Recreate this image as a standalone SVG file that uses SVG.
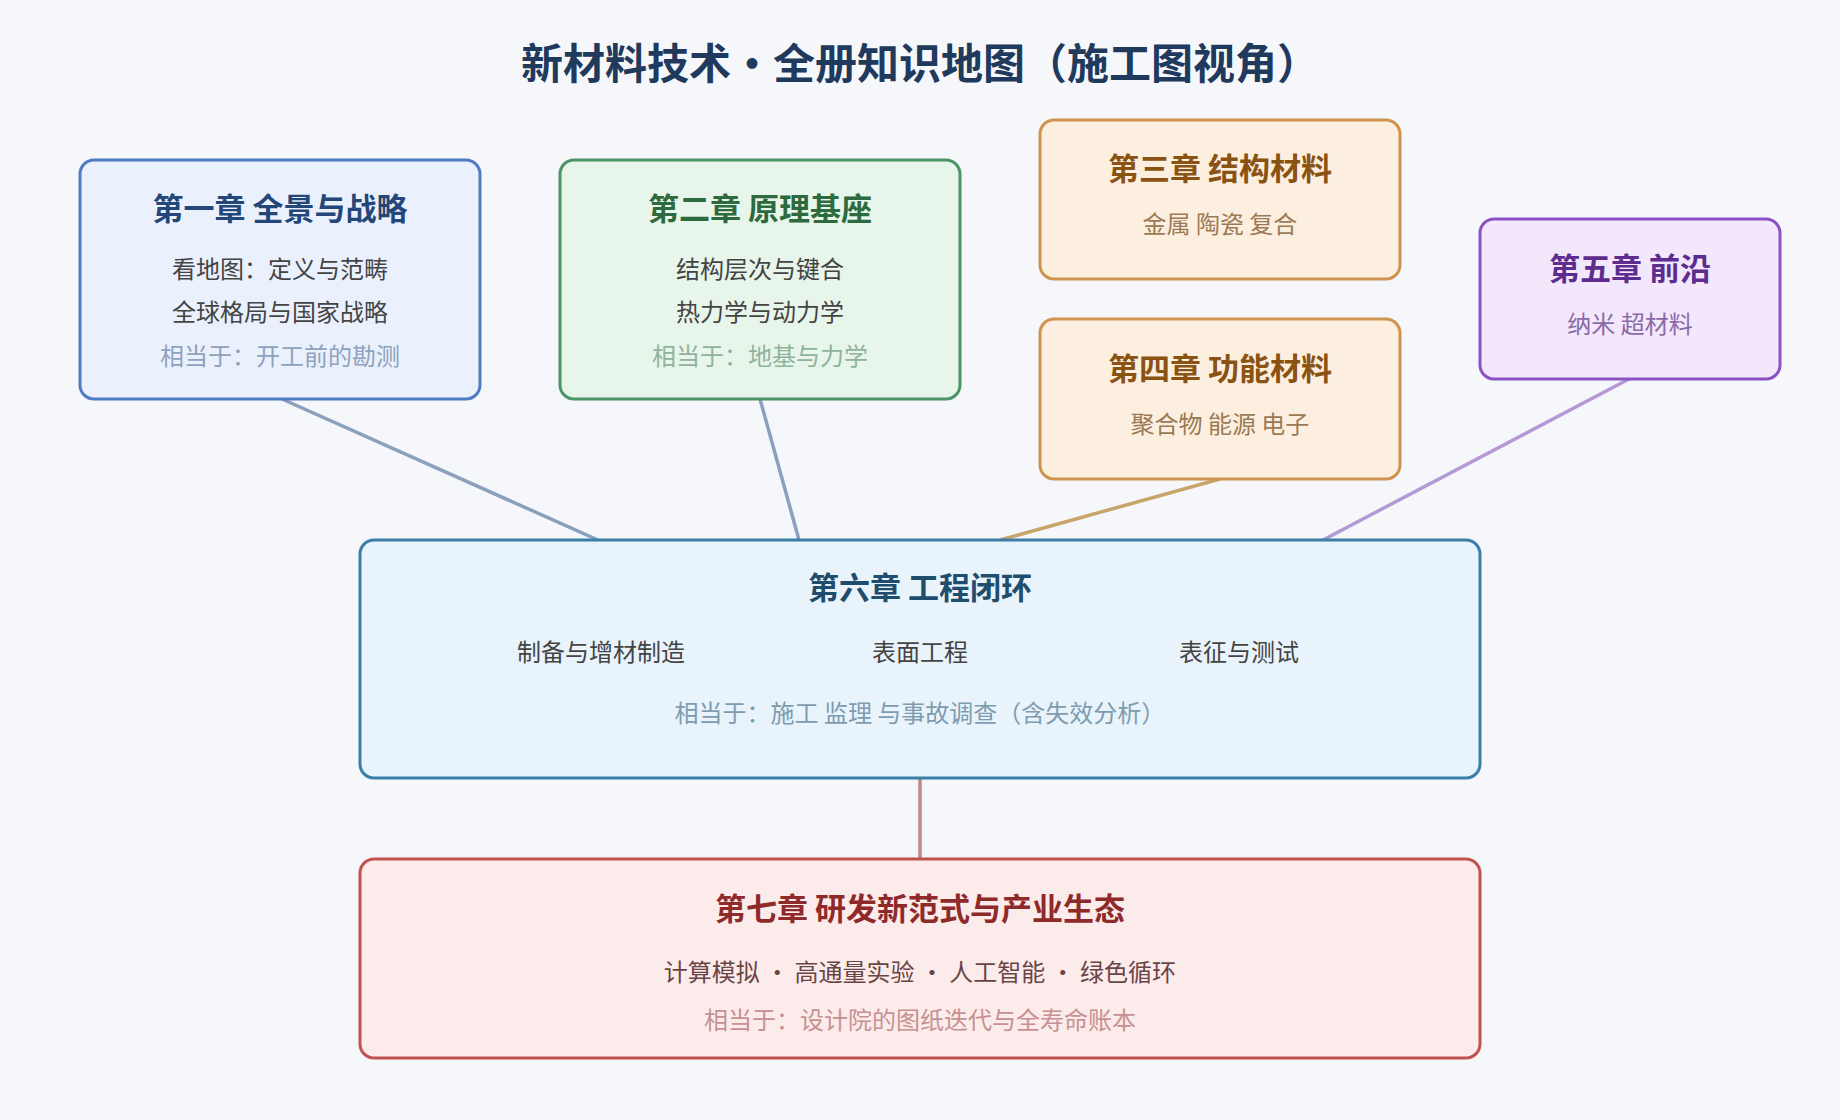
<svg xmlns="http://www.w3.org/2000/svg" width="1840" height="1120" viewBox="0 0 1840 1120">
<style>
text{font-family:"Noto Sans CJK SC","Noto Sans",sans-serif;text-anchor:middle;dominant-baseline:middle}
.t{font-size:31px;font-weight:bold}
.b{font-size:24px;fill:#444}
.n{font-size:24px}
.e{stroke-width:3.5;fill:none}
</style>
<rect width="1840" height="1120" fill="#f5f7fb"/>
<text x="920" y="68" style="font-size:42px;font-weight:bold;fill:#1f3a5c">新材料技术・全册知识地图（施工图视角）</text>
<g id="connectors">
<line class="e" x1="282" y1="399" x2="598" y2="540" stroke="#8aa0bd"/>
<line class="e" x1="760" y1="399" x2="799" y2="540" stroke="#8aa0bd"/>
<line class="e" x1="1220" y1="479" x2="1000" y2="540" stroke="#c9a56a"/>
<line class="e" x1="1629" y1="379" x2="1323" y2="540" stroke="#b39ad6"/>
<line class="e" x1="920" y1="778" x2="920" y2="859" stroke="#c08a8a"/>
</g>
<g id="ch1">
<rect x="80" y="160" width="400" height="239" rx="14" fill="#eaf1fd" stroke="#4f7ac4" stroke-width="3"/>
<text class="t" x="280" y="212" fill="#24477a">第一章 全景与战略</text>
<text class="b" x="280" y="271">看地图：定义与范畴</text>
<text class="b" x="280" y="314">全球格局与国家战略</text>
<text class="n" x="280" y="358" fill="#8fa2bd">相当于：开工前的勘测</text>
</g>
<g id="ch2">
<rect x="560" y="160" width="400" height="239" rx="14" fill="#e8f5ea" stroke="#4a9465" stroke-width="3"/>
<text class="t" x="760" y="212" fill="#2d6a3e">第二章 原理基座</text>
<text class="b" x="760" y="271">结构层次与键合</text>
<text class="b" x="760" y="314">热力学与动力学</text>
<text class="n" x="760" y="358" fill="#8fb39a">相当于：地基与力学</text>
</g>
<g id="ch3">
<rect x="1040" y="120" width="360" height="159" rx="14" fill="#fdefdf" stroke="#cf9350" stroke-width="3"/>
<text class="t" x="1220" y="172" fill="#8a5313">第三章 结构材料</text>
<text class="b" x="1220" y="226" fill="#9b7a55" style="fill:#9b7a55">金属 陶瓷 复合</text>
</g>
<g id="ch4">
<rect x="1040" y="319" width="360" height="160" rx="14" fill="#fdefdf" stroke="#cf9350" stroke-width="3"/>
<text class="t" x="1220" y="372" fill="#8a5313">第四章 功能材料</text>
<text class="b" x="1220" y="426" style="fill:#9b7a55">聚合物 能源 电子</text>
</g>
<g id="ch5">
<rect x="1480" y="219" width="300" height="160" rx="14" fill="#f3e7fb" stroke="#8c52c4" stroke-width="3"/>
<text class="t" x="1630" y="272" fill="#5c2d8f">第五章 前沿</text>
<text class="b" x="1630" y="326" style="fill:#8a6aa8">纳米 超材料</text>
</g>
<g id="ch6">
<rect x="360" y="540" width="1120" height="238" rx="14" fill="#e8f3fb" stroke="#3b7ea8" stroke-width="3"/>
<text class="t" x="920" y="591" fill="#1f4d6e">第六章 工程闭环</text>
<text class="b" x="601" y="654">制备与增材制造</text>
<text class="b" x="920" y="654">表面工程</text>
<text class="b" x="1239" y="654">表征与测试</text>
<text class="n" x="920" y="715" fill="#7f9bb0">相当于：施工 监理 与事故调查（含失效分析）</text>
</g>
<g id="ch7">
<rect x="360" y="859" width="1120" height="199" rx="14" fill="#fcebeb" stroke="#c05252" stroke-width="3"/>
<text class="t" x="920" y="912" fill="#8f2a2a">第七章 研发新范式与产业生态</text>
<text class="b" x="920" y="974" style="fill:#6a4545">计算模拟 · 高通量实验 · 人工智能 · 绿色循环</text>
<text class="n" x="920" y="1022" fill="#c79090">相当于：设计院的图纸迭代与全寿命账本</text>
</g>
</svg>
